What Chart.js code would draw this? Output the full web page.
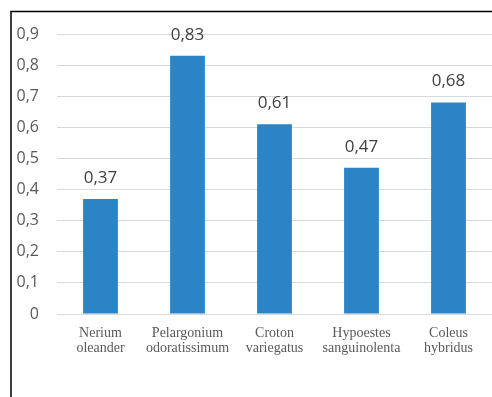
<!DOCTYPE html>
<html>
<head>
<meta charset="utf-8">
<script src="https://cdn.jsdelivr.net/npm/chart.js@4/dist/chart.umd.min.js"></script>
<style>
  html, body { margin: 0; padding: 0; background: #ffffff; }
  canvas { display: block; }
</style>
</head>
<body>
<canvas id="c" width="492" height="397"></canvas>
<script>
// Plant species (two-line labels) and measured values
const species = [
  ['Nerium', 'oleander'],
  ['Pelargonium', 'odoratissimum'],
  ['Croton', 'variegatus'],
  ['Hypoestes', 'sanguinolenta'],
  ['Coleus', 'hybridus']
];
const values = [0.37, 0.83, 0.61, 0.47, 0.68];
const yTicks = [0, 0.1, 0.2, 0.3, 0.4, 0.5, 0.6, 0.7, 0.8, 0.9];

const fmt = v => v.toFixed(2).replace('.', ',');
const fmtTick = v => (Math.round(v * 10) / 10).toString().replace('.', ',');

// Value labels above each bar
const valueLabels = {
  id: 'valueLabels',
  afterDatasetsDraw(chart) {
    const ctx = chart.ctx;
    const meta = chart.getDatasetMeta(0);
    ctx.save();
    ctx.font = '17px "Open Sans"';
    ctx.fillStyle = '#404040';
    ctx.textAlign = 'center';
    ctx.textBaseline = 'middle';
    meta.data.forEach((bar, i) => {
      ctx.fillText(fmt(values[i]), bar.x, bar.y - 21);
    });
    ctx.restore();
  }
};

// Frame lines along the top and left edges
const frame = {
  id: 'frame',
  afterDraw(chart) {
    const ctx = chart.ctx;
    ctx.save();
    ctx.strokeStyle = '#000000';
    ctx.lineWidth = 1.5;
    ctx.beginPath();
    ctx.moveTo(11, chart.height);
    ctx.lineTo(11, 11.5);
    ctx.lineTo(chart.width, 11.5);
    ctx.stroke();
    ctx.restore();
  }
};

new Chart(document.getElementById('c'), {
  type: 'bar',
  data: {
    labels: species,
    datasets: [{
      data: values,
      backgroundColor: '#2a84c6',
      borderWidth: 0,
      barPercentage: 0.4,
      categoryPercentage: 1
    }]
  },
  options: {
    responsive: false,
    animation: false,
    layout: { padding: { top: 34, right: 0, bottom: 0, left: 0 } },
    plugins: { legend: { display: false }, tooltip: { enabled: false } },
    scales: {
      x: {
        grid: { display: false },
        border: { display: false },
        ticks: {
          color: '#595959',
          font: { family: '"Liberation Serif"', size: 14, lineHeight: 1.12 },
          padding: 3,
          maxRotation: 0,
          autoSkip: false
        },
        afterFit: s => { s.height = 83; }
      },
      y: {
        min: 0,
        max: 0.9,
        afterBuildTicks: s => { s.ticks = yTicks.map(v => ({ value: v })); },
        grid: { color: '#d9d9d9', lineWidth: 1, drawTicks: false },
        border: { display: false },
        ticks: {
          color: '#595959',
          font: { family: '"Open Sans"', size: 16 },
          padding: 18,
          callback: v => fmtTick(v)
        },
        afterFit: s => { s.width = 57; }
      }
    }
  },
  plugins: [valueLabels, frame]
});
</script>
</body>
</html>
